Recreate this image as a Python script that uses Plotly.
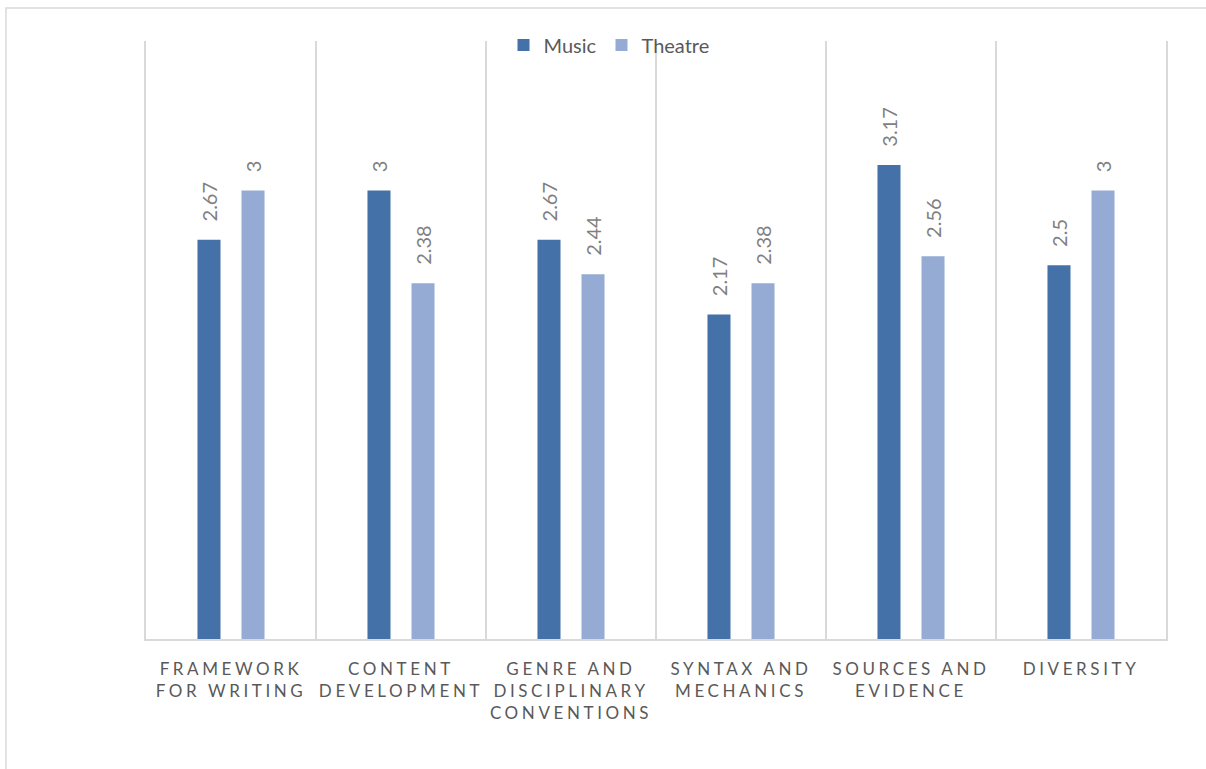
import plotly.graph_objects as go

categories = ["FRAMEWORK<br>FOR WRITING", "CONTENT<br>DEVELOPMENT", "GENRE AND<br>DISCIPLINARY<br>CONVENTIONS",
              "SYNTAX AND<br>MECHANICS", "SOURCES AND<br>EVIDENCE", "DIVERSITY"]
music = [2.67, 3, 2.67, 2.17, 3.17, 2.5]
theatre = [3, 2.38, 2.44, 2.38, 2.56, 3]
series_names = ["Music", "Theatre"]
colors = ["#4472A8", "#95ABD3"]

W, H = 1206, 769
L, R, T, B = 146, 1166, 41, 639

SP = '<span style="letter-spacing:3.6px">'
tick_text = [SP + c.replace("<br>", "</span><br>" + SP) + "</span>" for c in categories]

fig = go.Figure()
for name, vals, col in zip(series_names, [music, theatre], colors):
    fig.add_trace(go.Bar(
        x=categories, y=vals, name=name, marker=dict(color=col, line=dict(width=0)),
        text=["\u00a0\u00a0\u00a0" + f"{v:g}" for v in vals], textposition="outside", textangle=-90,
        constraintext="none",
        textfont=dict(color="#7F7F7F", size=20, family="Lato"), cliponaxis=False,
    ))

fig.update_layout(
    width=W, height=H, barmode="group", bargap=0.482, bargroupgap=0.477,
    margin=dict(l=L, r=W - R, t=T, b=H - B),
    paper_bgcolor="white", plot_bgcolor="white",
    font=dict(family="Lato", color="#595959"),
    legend=dict(orientation="h", x=(609 - L) / (R - L), xanchor="center",
                y=(B - 45) / (B - T), yanchor="middle", bgcolor="rgba(0,0,0,0)",
                font=dict(size=20, color="#595959"), itemwidth=30),
    shapes=[dict(type="rect", xref="paper", yref="paper",
                 x0=(6 - L) / (R - L), x1=(1212 - L) / (R - L),
                 y0=(B - 775) / (B - T), y1=(B - 8) / (B - T),
                 line=dict(color="#D9D9D9", width=1.5), fillcolor="rgba(0,0,0,0)", layer="below")],
)
fig.update_xaxes(type="category", tickson="boundaries", showgrid=True, gridcolor="#D9D9D9", gridwidth=1.5,
                 showline=True, linecolor="#D9D9D9", linewidth=1.5, ticks="", ticklabelstandoff=14,
                 tickvals=categories, ticktext=tick_text,
                 tickfont=dict(size=17, color="#595959", family="Lato"), tickangle=0)
fig.update_yaxes(range=[0, 4], showgrid=False, zeroline=False, showticklabels=False,
                 showline=True, mirror=True, linecolor="#D9D9D9", linewidth=1.5)

fig.write_html("out.html")
